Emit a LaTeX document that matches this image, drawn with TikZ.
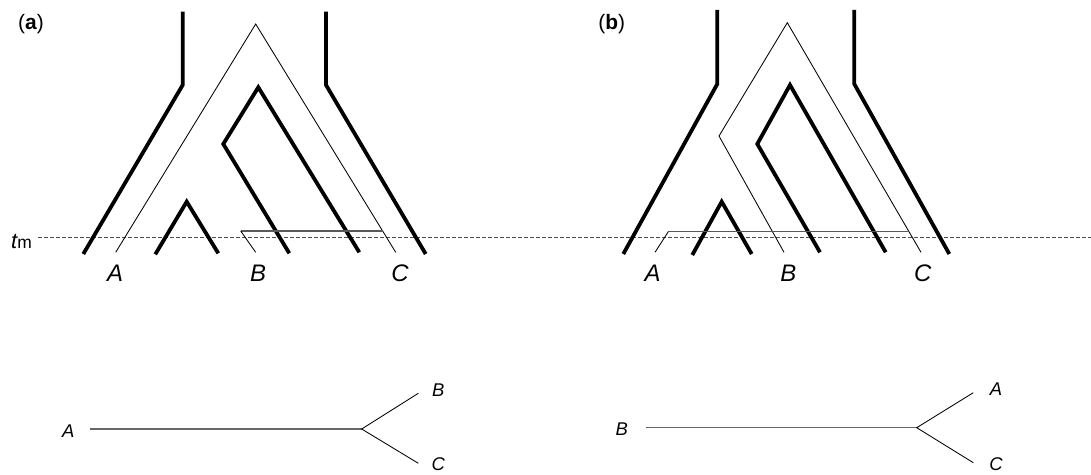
\documentclass[tikz,border=0pt]{standalone}
\usepackage{fontspec}
\setmainfont{Liberation Sans}
\begin{document}
\begin{tikzpicture}[x=1bp,y=-1bp,
  species/.style={line width=3.8bp, line join=miter},
  gene/.style={line width=0.85bp},
  mig/.style={line width=1.1bp, draw=black!65},
  tmline/.style={line width=1.1bp, draw=black!70, dash pattern=on 3.3bp off 2.7bp},
  toplab/.style={font=\fontsize{24}{24}\selectfont\itshape, inner sep=0pt},
  botlab/.style={font=\fontsize{18.5}{18.5}\selectfont\itshape, inner sep=0pt},
  panlab/.style={font=\fontsize{21}{21}\selectfont, inner sep=0pt},
  hbranch/.style={line width=1.3bp, draw=black!60},
  dbranch/.style={line width=0.85bp}]
\useasboundingbox (0,0) rectangle (1091,475);

% ---------------- panel labels ----------------
\node[panlab] (pa) at (31,24) {(\textbf{a})};
\node[panlab] (pb) at (611.7,24) {(\textbf{b})};

% ---------------- t_m line ----------------
\node[anchor=base west, inner sep=0pt] (tm) at (11,248.3)
  {\fontsize{22}{22}\selectfont\itshape t\upshape\fontsize{17.5}{17.5}\selectfont m};
\coordinate (tmS) at (38.3,237.7);
\coordinate (tmE) at (1091,237.7);
\draw[tmline] (tmS) -- (tmE);

% ================= panel (a) =================
\coordinate (aL1) at (182.7,11.7); \coordinate (aL2) at (182.7,85); \coordinate (aL3) at (83.3,254);
\coordinate (aR1) at (326,11.7);   \coordinate (aR2) at (326,85);   \coordinate (aR3) at (425.7,254);
\draw[species] (aL1) -- (aL2) -- (aL3);
\draw[species] (aR1) -- (aR2) -- (aR3);
\coordinate (aI1) at (289.3,253.3); \coordinate (aI2) at (223.3,144);
\coordinate (aI3) at (258.3,87.3);  \coordinate (aI4) at (359.3,252.3);
\draw[species] (aI1) -- (aI2) -- (aI3) -- (aI4);
\coordinate (aS1) at (155.3,254.3); \coordinate (aS2) at (186.7,201.7); \coordinate (aS3) at (218.3,253.3);
\draw[species] (aS1) -- (aS2) -- (aS3);
\coordinate (aGtop) at (255.7,24); \coordinate (aGA) at (115.7,252.3); \coordinate (aGC) at (395.7,252.3);
\draw[gene] (aGA) -- (aGtop) -- (aGC);
\coordinate (aM1) at (382.6,231); \coordinate (aM2) at (240.7,231); \coordinate (aGB) at (255.7,252.3);
\draw[mig] (aM1) -- (aM2);
\draw[gene] (aM2) -- (aGB);
\node[toplab] (aA) at (115,273) {A};
\node[toplab] (aB) at (258,273) {B};
\node[toplab] (aC) at (400,273) {C};

% ================= panel (b) =================
\coordinate (bL1) at (717.3,10); \coordinate (bL2) at (717.3,84); \coordinate (bL3) at (623.3,254);
\coordinate (bR1) at (854.3,10); \coordinate (bR2) at (854.3,84); \coordinate (bR3) at (949.3,254);
\draw[species] (bL1) -- (bL2) -- (bL3);
\draw[species] (bR1) -- (bR2) -- (bR3);
\coordinate (bI1) at (820,252.3); \coordinate (bI2) at (757.3,144);
\coordinate (bI3) at (790,85);    \coordinate (bI4) at (885.7,252.3);
\draw[species] (bI1) -- (bI2) -- (bI3) -- (bI4);
\coordinate (bS1) at (692.3,255); \coordinate (bS2) at (721.7,201.7); \coordinate (bS3) at (751.7,254);
\draw[species] (bS1) -- (bS2) -- (bS3);
\coordinate (bGB) at (784,252.3); \coordinate (bGk) at (719,136);
\coordinate (bGtop) at (787.3,22.7); \coordinate (bGC) at (921,252.3);
\draw[gene] (bGB) -- (bGk) -- (bGtop) -- (bGC);
\coordinate (bM1) at (909,231.7); \coordinate (bM2) at (668.3,231.7); \coordinate (bGA) at (655,252.3);
\draw[mig] (bM1) -- (bM2);
\draw[gene] (bM2) -- (bGA);
\node[toplab] (bA) at (652.7,273) {A};
\node[toplab] (bB) at (788.3,273) {B};
\node[toplab] (bC) at (922.7,273) {C};

% ================= bottom trees =================
\node[botlab] (tA) at (68.3,431) {A};
\node[botlab] (tB) at (438.3,390) {B};
\node[botlab] (tC) at (438.3,464) {C};
\coordinate (tAe) at (90,429); \coordinate (tJ) at (361.7,429);
\coordinate (tBe) at (418.3,393.3); \coordinate (tCe) at (418.3,463.3);
\draw[hbranch] (tAe) -- (tJ);
\draw[dbranch] (tBe) -- (tJ) -- (tCe);

\node[botlab] (uB) at (621.7,429.5) {B};
\node[botlab] (uA) at (996,389.3) {A};
\node[botlab] (uC) at (996,464) {C};
\coordinate (uBe) at (646,427.7); \coordinate (uJ) at (916.7,427.7);
\coordinate (uAe) at (973.3,392.7); \coordinate (uCe) at (973.3,462.7);
\draw[hbranch] (uBe) -- (uJ);
\draw[dbranch] (uAe) -- (uJ) -- (uCe);
\end{tikzpicture}
\end{document}
